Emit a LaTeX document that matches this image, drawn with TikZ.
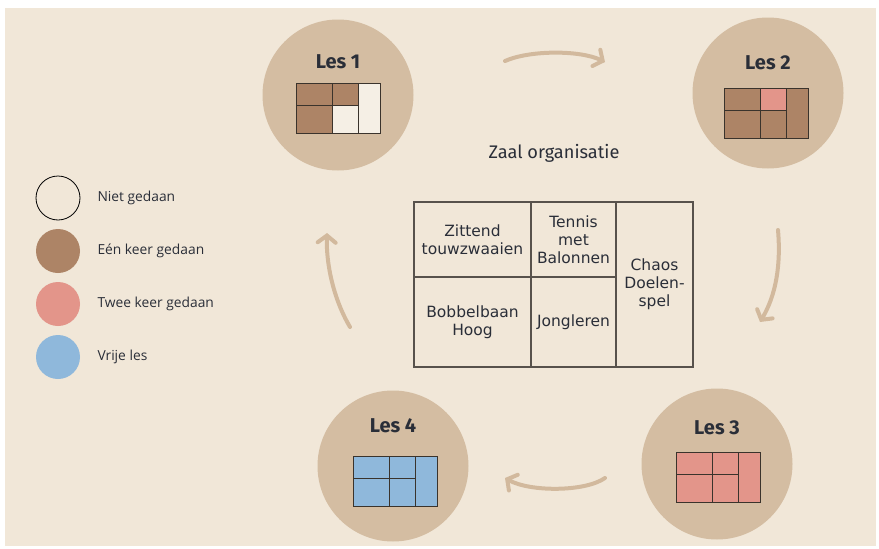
\documentclass[tikz,border=0pt]{standalone}
\usepackage{fontspec}
\setmainfont{Fira Sans}
\newfontfamily\legendafont{Open Sans}
\newfontfamily\tabelfont{DejaVu Sans}
\usetikzlibrary{arrows.meta}
\definecolor{achtergrond}{HTML}{F1E7D8}
\definecolor{schijf}{HTML}{D4BDA2}
\definecolor{pijl}{HTML}{D2B99D}
\definecolor{bruin}{HTML}{AD8466}
\definecolor{roze}{HTML}{E3958A}
\definecolor{blauw}{HTML}{8FB8DB}
\definecolor{leeg}{HTML}{F5EFE5}
\definecolor{lijn}{HTML}{3A332C}
\definecolor{tekst}{HTML}{2A2E38}
\tikzset{
  lesschijf/.style={circle,fill=schijf,minimum size=151pt,inner sep=0pt},
  lestitel/.style={font=\fontsize{20}{22}\selectfont\bfseries,text=tekst},
  cyclus/.style={draw=pijl,line width=4pt,line cap=round,-{Straight Barb[length=7pt,width=18pt,line cap=round]}},
  legenda/.style={circle,minimum size=44pt,inner sep=0pt},
  legendatekst/.style={anchor=west,font=\legendafont\fontsize{13.8}{16}\selectfont,text=tekst},
  zaalvak/.style={draw=lijn!85,line width=1.1pt,inner sep=0pt,align=center,font=\tabelfont\fontsize{15.5}{18}\selectfont,text=tekst},
  vak/.style={draw=lijn,line width=1pt},
}
% veld: linksboven (#1,#2), vakken: lb, mb, lo, mo, rechts
\newcommand{\lesveld}[7]{%
  \fill[#3] (#1,#2) rectangle ++(36,22);
  \fill[#4] (#1+36,#2) rectangle ++(26,22);
  \fill[#5] (#1,#2+22) rectangle ++(36,28);
  \fill[#6] (#1+36,#2+22) rectangle ++(26,28);
  \fill[#7] (#1+62,#2) rectangle ++(22,50);
  \draw[vak] (#1,#2) rectangle ++(84,50);
  \draw[vak] (#1+36,#2) -- ++(0,50);
  \draw[vak] (#1+62,#2) -- ++(0,50);
  \draw[vak] (#1,#2+22) -- ++(62,0);
}

\begin{document}
\begin{tikzpicture}[x=1pt,y=-1pt]
\useasboundingbox (0,0) rectangle (879,549);
\fill[achtergrond] (5,8) rectangle (876,546);

% lessen
\node[lesschijf] (les1) at (338,95) {};
\node[lesschijf] (les2) at (768,93) {};
\node[lesschijf] (les3) at (717,464) {};
\node[lesschijf] (les4) at (393,466) {};
\node[lestitel] (t1) at (338,62) {Les 1};
\node[lestitel] (t2) at (768,63) {Les 2};
\node[lestitel] (t3) at (717,428) {Les 3};
\node[lestitel] (t4) at (393,426) {Les 4};
\lesveld{296}{83}{bruin}{bruin}{bruin}{leeg}{leeg}
\lesveld{724}{88}{bruin}{roze}{bruin}{bruin}{bruin}
\lesveld{676}{452}{roze}{roze}{roze}{roze}{roze}
\lesveld{353}{456}{blauw}{blauw}{blauw}{blauw}{blauw}

% pijlen
\coordinate (p12a) at (505,61);
\coordinate (p12b) at (605,62);
\coordinate (p23a) at (778,230);
\coordinate (p23b) at (760,322);
\coordinate (p34a) at (605,478);
\coordinate (p34b) at (505,478);
\coordinate (p41a) at (350,327);
\coordinate (p41b) at (327,233);
\draw[cyclus] (p12a) .. controls (530,50) and (580,50) .. (p12b);
\draw[cyclus] (p23a) .. controls (781,265) and (776,295) .. (p23b);
\draw[cyclus] (p34a) .. controls (585,492) and (530,492) .. (p34b);
\draw[cyclus] (p41a) .. controls (334,300) and (326,265) .. (p41b);

% zaal
\node[font=\fontsize{18.2}{20}\selectfont,text=tekst] (zaal) at (554,153) {Zaal organisatie};
\node[zaalvak,minimum width=117pt,minimum height=75pt] (zit) at (472.5,239.5) {Zittend\\touwzwaaien};
\node[zaalvak,minimum width=85pt,minimum height=75pt] (ten) at (573.5,239.5) {Tennis\\met\\Balonnen};
\node[zaalvak,minimum width=117pt,minimum height=90pt] (bob) at (472.5,322) {Bobbelbaan\\Hoog};
\node[zaalvak,minimum width=85pt,minimum height=90pt] (jon) at (573.5,322) {Jongleren};
\node[zaalvak,minimum width=77pt,minimum height=165pt] (cha) at (654.5,284.5) {Chaos\\Doelen-\\spel};

% legenda
\node[legenda,draw=black,line width=0.8pt,fill=achtergrond] (l1) at (58,198) {};
\node[legenda,fill=bruin] (l2) at (58,251) {};
\node[legenda,fill=roze] (l3) at (58,304) {};
\node[legenda,fill=blauw] (l4) at (58,357) {};
\node[legendatekst] at (94,198) {Niet gedaan};
\node[legendatekst] at (94,251) {Eén keer gedaan};
\node[legendatekst] at (94,304) {Twee keer gedaan};
\node[legendatekst] at (94,357) {Vrije les};
\end{tikzpicture}
\end{document}
